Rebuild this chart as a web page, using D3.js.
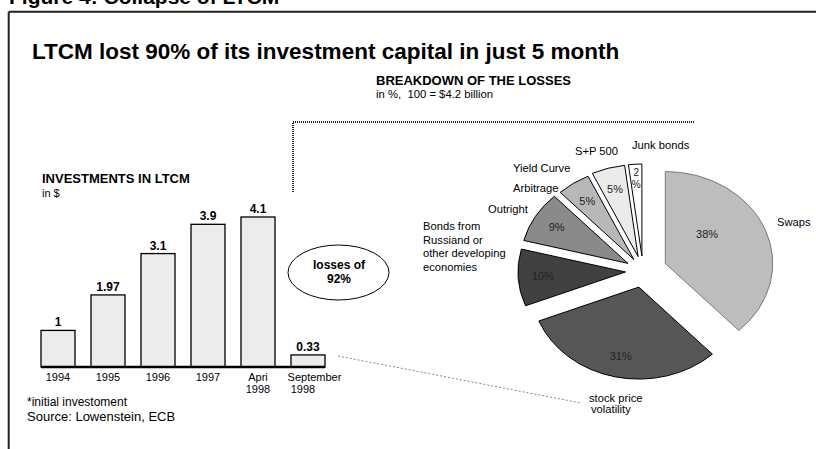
<!DOCTYPE html>
<html><head><meta charset="utf-8">
<script src="https://cdn.jsdelivr.net/npm/d3@7/dist/d3.min.js"></script>
<style>
html,body{margin:0;padding:0;background:#fff;}
svg{display:block;font-family:"Liberation Sans",Arial,Helvetica,sans-serif;}
</style></head>
<body><svg id="chart" width="816" height="449"></svg>
<script>
// ---- data ----
const categories = ["1994", "1995", "1996", "1997", "Apri\n1998", "September\n1998"];
const investments = [1, 1.97, 3.1, 3.9, 4.1, 0.33];
const valueLabels = ["1", "1.97", "3.1", "3.9", "4.1", "0.33"];

const lossCategories = ["Swaps", "stock price\nvolatility", "Bonds from\nRussiand or\nother developing\neconomies", "Outright", "Yield Curve\nArbitrage", "S+P 500", "Junk bonds"];
const lossShares = [38, 31, 10, 9, 5, 5, 2];
const lossLabels = ["38%", "31%", "10%", "9%", "5%", "5%", "2\n%"];

// ---- styles ----
const pieFills = ["#bdbdbd", "#565656", "#414141", "#8a8a8a", "#b8b8b8", "#ebebeb", "#ffffff"];
const pieStrokes = ["#555", "#000", "#000", "#000", "#000", "#000", "#000"];
const explode = [20.5, 16.5, 15, 15, 14, 15, 15];
// outer category label anchors (annotation layout)
const catLabelPos = [[777, 226], [589, 402], [423, 230], [488, 213], [513, 172], [575, 155], [632, 149]];

const svg = d3.select("#chart");

// frame + clipped figure heading
svg.append("text").attr("x", 9).attr("y", 3.5).attr("font-size", 21).attr("font-weight", "bold")
  .text("Figure 4: Collapse of LTCM");
svg.append("path").attr("d", "M8.7,11.7H816M8.7,11.7V449").attr("fill", "none").attr("stroke", "#222").attr("stroke-width", 2);

svg.append("text").attr("x", 32).attr("y", 59).attr("font-size", 22.5).attr("font-weight", "bold")
  .text("LTCM lost 90% of its investment capital in just 5 month");

svg.append("text").attr("x", 376).attr("y", 85).attr("font-size", 13).attr("font-weight", "bold")
  .text("BREAKDOWN OF THE LOSSES");
svg.append("text").attr("x", 376).attr("y", 98).attr("font-size", 11.3).attr("xml:space", "preserve")
  .style("white-space", "pre").text("in %,  100 = $4.2 billion");

// dotted connector
svg.append("path").attr("d", "M293,192V122H694").attr("fill", "none").attr("stroke", "#222")
  .attr("stroke-width", 2).attr("stroke-dasharray", "1,1");

// ---- bar chart ----
svg.append("text").attr("x", 42).attr("y", 183).attr("font-size", 13).attr("font-weight", "bold")
  .text("INVESTMENTS IN LTCM");
svg.append("text").attr("x", 42).attr("y", 197).attr("font-size", 11).text("in $");

const x = d3.scaleBand().domain(categories).range([33, 333]).paddingInner(0.32).paddingOuter(0.16);
const y = d3.scaleLinear().domain([0, 4.1]).range([367, 217]);

const bars = svg.append("g");
bars.selectAll("rect").data(investments).join("rect")
  .attr("x", (d, i) => x(categories[i]))
  .attr("y", d => y(d))
  .attr("width", x.bandwidth())
  .attr("height", d => y(0) - y(d))
  .attr("fill", "#ececec").attr("stroke", "#000").attr("stroke-width", 1.3);

bars.selectAll("text.v").data(investments).join("text").attr("class", "v")
  .attr("x", (d, i) => x(categories[i]) + x.bandwidth() / 2)
  .attr("y", d => y(d) - 4)
  .attr("text-anchor", "middle").attr("font-size", 12).attr("font-weight", "bold")
  .text((d, i) => valueLabels[i]);

// baseline axis
const xAxis = d3.axisBottom(x).tickSize(0).tickPadding(0).tickFormat("");
const ax = svg.append("g").attr("transform", `translate(0,${y(0)})`).call(xAxis);
ax.select(".domain").attr("d", `M${x(categories[0])},0H${x(categories[5]) + x.bandwidth()}`)
  .attr("stroke", "#000").attr("stroke-width", 2.5);
categories.forEach((c, i) => {
  const lines = c.split("\n");
  const cxm = x(c) + x.bandwidth() / 2;
  const t = svg.append("text").attr("text-anchor", "middle").attr("font-size", 11);
  lines.forEach((l, j) => t.append("tspan")
    .attr("x", cxm + (i === 5 ? (j ? -5 : 6.5) : 0))
    .attr("y", y(0) + 14 + j * 12).text(l));
});

svg.append("text").attr("x", 27).attr("y", 406).attr("font-size", 12).text("*initial investoment");
svg.append("text").attr("x", 27).attr("y", 421).attr("font-size", 13).text("Source: Lowenstein, ECB");

// losses ellipse
svg.append("ellipse").attr("cx", 338.5).attr("cy", 272.5).attr("rx", 50.5).attr("ry", 27.5)
  .attr("fill", "none").attr("stroke", "#000").attr("stroke-width", 1);
svg.append("text").attr("x", 339).attr("y", 269).attr("text-anchor", "middle").attr("font-size", 12)
  .attr("font-weight", "bold").text("losses of");
svg.append("text").attr("x", 339).attr("y", 283).attr("text-anchor", "middle").attr("font-size", 12)
  .attr("font-weight", "bold").text("92%");

// dashed pointer line
svg.append("line").attr("x1", 338).attr("y1", 356).attr("x2", 581).attr("y2", 403)
  .attr("stroke", "#666").attr("stroke-width", 0.8).attr("stroke-dasharray", "2,2");

// ---- pie ----
const cx = 643, cy = 271, ry = 92, rx = 107.5, sx = rx / ry;
const pie = d3.pie().sort(null).value(d => d)(lossShares);
const arc = d3.arc().innerRadius(0).outerRadius(ry);
const pg = svg.append("g");
pie.forEach((p, i) => {
  const m = (p.startAngle + p.endAngle) / 2;
  const ox = cx + explode[i] * Math.sin(m) * sx;
  const oy = cy - explode[i] * Math.cos(m);
  pg.append("path").attr("d", arc(p))
    .attr("transform", `translate(${ox},${oy}) scale(${sx},1)`)
    .attr("fill", pieFills[i]).attr("stroke", pieStrokes[i])
    .attr("stroke-width", i === 0 ? 0.7 : 1).attr("vector-effect", "non-scaling-stroke");
  // value label
  let la = m, k = 0.77;
  if (i === 0) { la = m - 0.32; k = 0.507; }
  if (i === 6) { k = 0.85; }
  const lx = ox + k * rx * Math.sin(la);
  const ly = oy - k * ry * Math.cos(la);
  const lines = lossLabels[i].split("\n");
  const fs = lines.length > 1 ? 10 : 11;
  const gap = 11.5;
  const t = pg.append("text").attr("text-anchor", "middle").attr("font-size", fs).attr("fill", "#222");
  lines.forEach((l, j) => t.append("tspan").attr("x", lx)
    .attr("y", ly + 4 - (lines.length - 1) * gap / 2 + j * gap).text(l));
});

// category labels
lossCategories.forEach((c, i) => {
  const [px, py] = catLabelPos[i];
  const t = svg.append("text").attr("font-size", 11.2);
  c.split("\n").forEach((l, j) => t.append("tspan").attr("x", px + (i === 1 ? j * 2 : 0))
    .attr("y", py + j * (i === 2 ? 13.5 : (i === 4 ? 20 : 11))).text(l));
});
</script></body></html>
